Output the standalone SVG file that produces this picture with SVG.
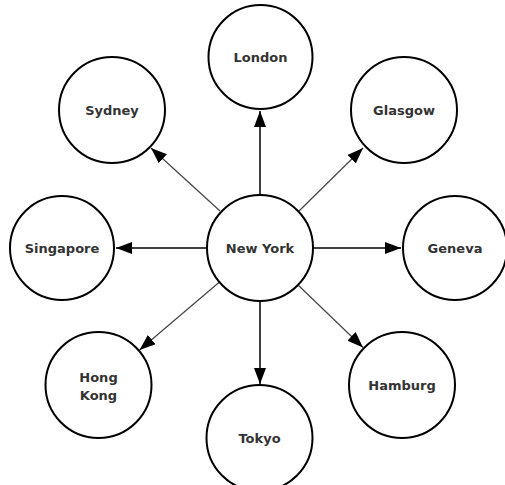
<svg xmlns="http://www.w3.org/2000/svg" width="505" height="485" viewBox="0 0 505 485">
<style>
.node circle{fill:#fff;stroke:#000;stroke-width:2}
.node text{font-family:"DejaVu Sans","Liberation Sans",sans-serif;font-weight:bold;font-size:13px;fill:#333;text-anchor:middle}
.s{stroke:#000;stroke-width:1.5;fill:none}
.d{stroke:#444;stroke-width:1.2;fill:none}
</style>
<defs>
<marker id="arr" markerUnits="userSpaceOnUse" markerWidth="16" markerHeight="12" refX="16" refY="6" orient="auto">
<path d="M0,0 L16,6 L0,12 z" fill="#000"/>
</marker>
</defs>
<rect width="505" height="485" fill="#fff"/>
<g id="connectors">
<line class="s" x1="260" y1="195" x2="260" y2="111" marker-end="url(#arr)"/>
<line class="s" x1="260" y1="301" x2="260" y2="384" marker-end="url(#arr)"/>
<line class="s" x1="207" y1="248" x2="116" y2="248" marker-end="url(#arr)"/>
<line class="s" x1="313" y1="248" x2="401" y2="248" marker-end="url(#arr)"/>
<line class="d" x1="220" y1="211" x2="151" y2="148" marker-end="url(#arr)"/>
<line class="d" x1="299" y1="211" x2="363" y2="148" marker-end="url(#arr)"/>
<line class="d" x1="298" y1="285" x2="363" y2="347.5" marker-end="url(#arr)"/>
<line class="d" x1="219.5" y1="282" x2="139.5" y2="350" marker-end="url(#arr)"/>
</g>
<g id="newyork" class="node"><circle cx="260" cy="248" r="53"/><text x="260" y="252.5">New York</text></g>
<g id="london" class="node"><circle cx="260.5" cy="57" r="52"/><text x="260.5" y="62">London</text></g>
<g id="glasgow" class="node"><circle cx="404" cy="110" r="53"/><text x="404" y="114.5">Glasgow</text></g>
<g id="geneva" class="node"><circle cx="455" cy="248" r="52"/><text x="455" y="252.5">Geneva</text></g>
<g id="hamburg" class="node"><circle cx="402" cy="385" r="53"/><text x="402" y="389.5">Hamburg</text></g>
<g id="tokyo" class="node"><circle cx="259.5" cy="438" r="53"/><text x="259.5" y="442.5">Tokyo</text></g>
<g id="hongkong" class="node"><circle cx="98.5" cy="385" r="53"/><text x="98.5" y="381.5">Hong</text><text x="98.5" y="399.5">Kong</text></g>
<g id="singapore" class="node"><circle cx="62" cy="248" r="52"/><text x="62" y="252.5">Singapore</text></g>
<g id="sydney" class="node"><circle cx="112" cy="110" r="53"/><text x="112" y="114.5">Sydney</text></g>
</svg>
